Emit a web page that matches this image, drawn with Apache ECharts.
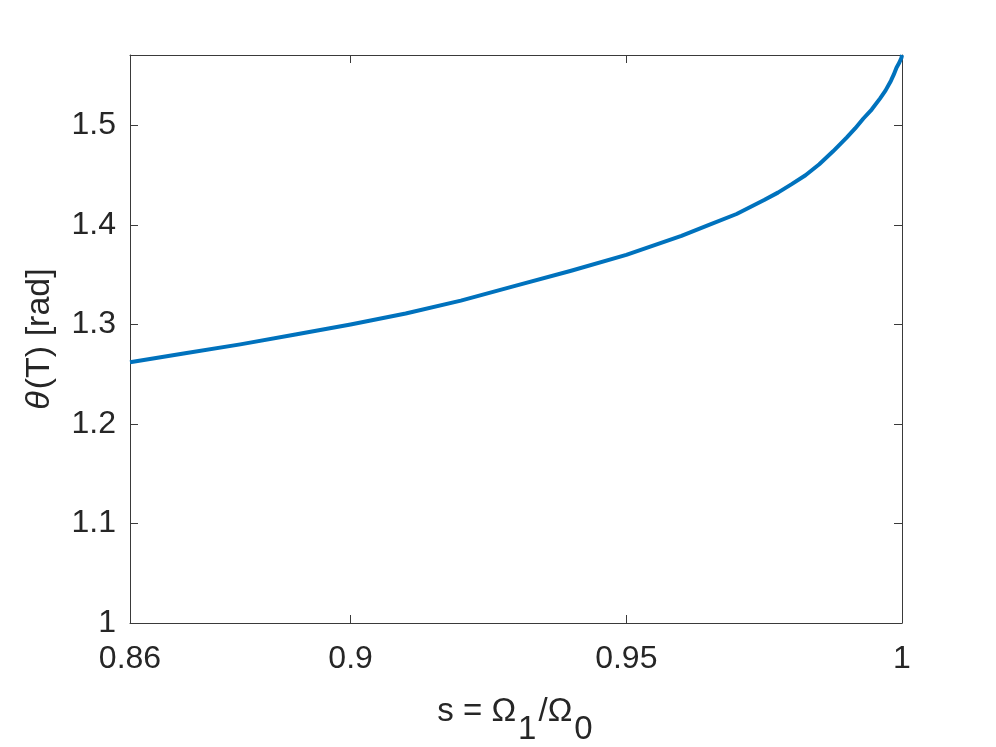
<!DOCTYPE html>
<html>
<head>
<meta charset="utf-8">
<script src="https://cdn.jsdelivr.net/npm/echarts@6/dist/echarts.min.js"></script>
<style>
  html, body { margin: 0; padding: 0; background: #fff; }
  #chart { width: 996px; height: 747px; }
</style>
</head>
<body>
<div id="chart"></div>
<script>
// s = Omega1/Omega0 and theta(T)
var sValues = [0.86, 0.87, 0.88, 0.89, 0.90, 0.91, 0.92, 0.93, 0.94, 0.95, 0.96, 0.965, 0.97, 0.975, 0.9775, 0.98, 0.9825, 0.985, 0.9875, 0.99, 0.9915, 0.993, 0.9945, 0.996, 0.997, 0.998, 0.9985, 0.999, 0.9995, 0.9999, 1.0];
var thetaValues = [1.262, 1.271, 1.280, 1.290, 1.300, 1.311, 1.324, 1.339, 1.354, 1.370, 1.389, 1.400, 1.411, 1.425, 1.4325, 1.441, 1.450, 1.461, 1.474, 1.488, 1.497, 1.507, 1.516, 1.527, 1.535, 1.545, 1.551, 1.558, 1.563, 1.568, 1.5708];

var xTicks = [0.86, 0.9, 0.95, 1];
var yTicks = [1, 1.1, 1.2, 1.3, 1.4, 1.5];
var xRange = [0.86, 1];
var yRange = [1, 1.5708];

var chart = echarts.init(document.getElementById('chart'));

var axisColor = '#3a3a3a';
var textColor = '#262626';
var font = 'Liberation Sans, Arial, Helvetica, sans-serif';

var lineData = sValues.map(function (s, i) { return [s, thetaValues[i]]; });

function boxAxis(pos, ticks, range, showLabel) {
    return {
        type: 'value',
        position: pos,
        min: range[0],
        max: range[1],
        axisLine: { show: true, onZero: false, lineStyle: { color: axisColor, width: 1 } },
        axisTick: { show: true, inside: true, length: 8, customValues: ticks, lineStyle: { color: axisColor } },
        axisLabel: {
            show: showLabel,
            customValues: ticks,
            color: textColor,
            fontSize: 32,
            fontFamily: font,
            margin: pos === 'bottom' ? 20 : 14
        },
        splitLine: { show: false }
    };
}

var xBottom = boxAxis('bottom', xTicks, xRange, true);
xBottom.name = '{n|s = Ω}{sub|1}{n|/Ω}{sub|0}';
xBottom.nameLocation = 'middle';
xBottom.nameGap = 72;
xBottom.nameTextStyle = {
    rich: {
        n: { fontSize: 33, fontFamily: font, color: textColor, verticalAlign: 'top', lineHeight: 32 },
        sub: { fontSize: 33, fontFamily: font, color: textColor, verticalAlign: 'top', lineHeight: 32, padding: [18, 2, 0, 2] }
    }
};

var yLeft = boxAxis('left', yTicks, yRange, true);
yLeft.name = '{it|θ}{n|(T) [rad]}';
yLeft.nameLocation = 'middle';
yLeft.nameGap = 73;
yLeft.nameTextStyle = {
    rich: {
        it: { fontSize: 34, fontFamily: font, fontStyle: 'italic', color: textColor, padding: [0, 2, 0, 0] },
        n: { fontSize: 34, fontFamily: font, color: textColor }
    }
};

var option = {
    animation: false,
    backgroundColor: '#fff',
    grid: { left: 130, right: 94, top: 55, bottom: 124, containLabel: false, outerBoundsMode: 'none' },
    xAxis: [xBottom, boxAxis('top', xTicks, xRange, false)],
    yAxis: [yLeft, boxAxis('right', yTicks, yRange, false)],
    series: [
        {
            type: 'line',
            data: lineData,
            xAxisIndex: 0,
            yAxisIndex: 0,
            showSymbol: false,
            smooth: false,
            lineStyle: { color: '#0072BD', width: 4, join: 'round' }
        }
    ]
};

chart.setOption(option);
</script>
</body>
</html>
